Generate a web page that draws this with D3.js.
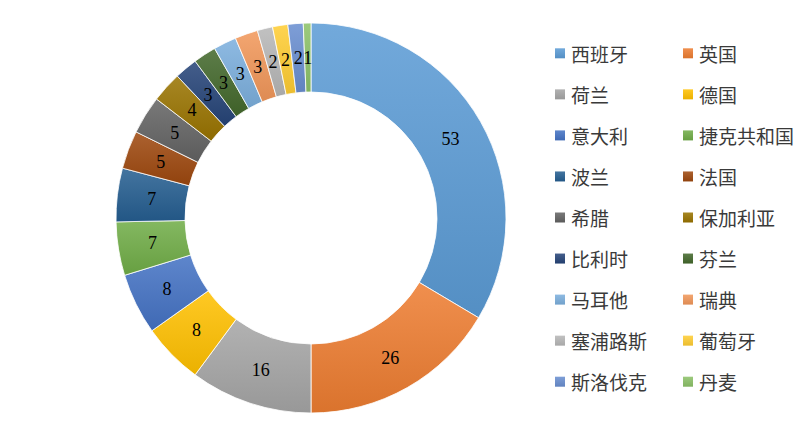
<!DOCTYPE html>
<html><head><meta charset="utf-8">
<script src="https://cdn.jsdelivr.net/npm/d3@7/dist/d3.min.js"></script>
<style>html,body{margin:0;padding:0;background:#fff;}svg{display:block;}</style>
</head><body>
<script>
const categories = ["西班牙","英国","荷兰","德国","意大利","捷克共和国","波兰","法国","希腊","保加利亚","比利时","芬兰","马耳他","瑞典","塞浦路斯","葡萄牙","斯洛伐克","丹麦"];
const values = [53,26,16,8,8,7,7,5,5,4,3,3,3,3,2,2,2,1];
const colors = ["#5B9BD5","#ED7D31","#A5A5A5","#FFC000","#4472C4","#70AD47","#255E91","#9E480E","#636363","#997300","#264478","#43682B","#7CAFDD","#F1975A","#B7B7B7","#FFCD33","#698ED0","#8CC168"];

const W = 804, H = 431;
const cx = 311, cy = 218, rOuter = 195, rInner = 126;

const svg = d3.select("body").append("svg").attr("width", W).attr("height", H);
const defs = svg.append("defs");
colors.forEach((c, i) => {
  const g = defs.append("linearGradient").attr("id", "g" + i)
    .attr("x1", 0).attr("y1", 0).attr("x2", 0).attr("y2", 1);
  g.append("stop").attr("offset", "0%").attr("stop-color", d3.interpolateRgb(c, "#fff")(0.14));
  g.append("stop").attr("offset", "100%").attr("stop-color", d3.interpolateRgb(c, "#000")(0.08));
});

const data = categories.map((k, i) => ({ k, v: values[i], i }));
const pie = d3.pie().value(d => d.v).sort(null);
const arc = d3.arc().innerRadius(rInner).outerRadius(rOuter);
const labelArc = d3.arc().innerRadius((rInner + rOuter) / 2).outerRadius((rInner + rOuter) / 2);

const g = svg.append("g").attr("transform", `translate(${cx},${cy})`);
const arcs = pie(data);
g.selectAll("path").data(arcs).enter().append("path")
  .attr("d", arc)
  .attr("fill", d => `url(#g${d.data.i})`)
  .attr("stroke", "#fff").attr("stroke-width", 0.8);

g.selectAll("text").data(arcs).enter().append("text")
  .attr("transform", d => `translate(${labelArc.centroid(d)})`)
  .attr("text-anchor", "middle").attr("dominant-baseline", "central")
  .attr("font-family", "'Liberation Serif','Times New Roman',serif")
  .attr("font-size", 18).attr("fill", "#000")
  .text(d => d.data.v);

// Legend
const legX = [555, 683], legY0 = 53.3, legDy = 41.05;
const leg = svg.append("g");
data.forEach((d, i) => {
  const col = i % 2, row = Math.floor(i / 2);
  const x = legX[col], y = legY0 + row * legDy;
  leg.append("rect").attr("x", x).attr("y", y - 5).attr("width", 10).attr("height", 10)
    .attr("fill", `url(#g${i})`);
  leg.append("text").attr("x", x + 16).attr("y", y).attr("dominant-baseline", "central")
    .attr("font-family", "'Noto Sans CJK SC','Noto Sans',sans-serif")
    .attr("font-size", 19).attr("fill", "#3a3a3a").text(d.k);
});
</script>
</body></html>
